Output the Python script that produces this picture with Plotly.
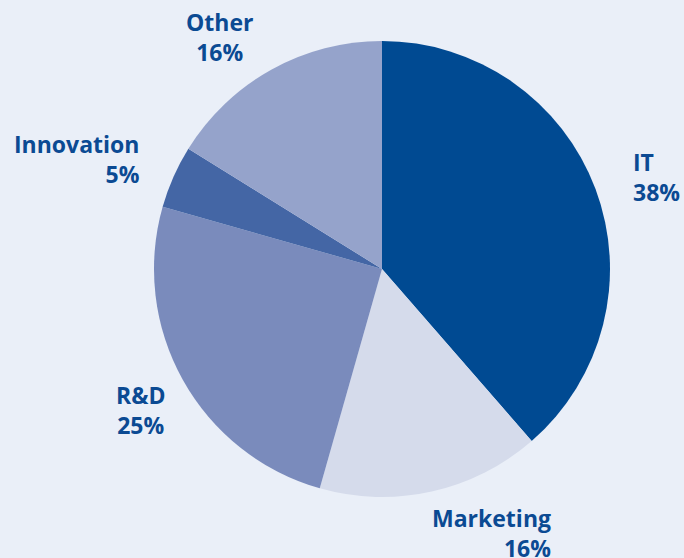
import plotly.graph_objects as go

labels = ["IT", "Marketing", "R&D", "Innovation", "Other"]
values = [38.6, 15.8, 25.0, 4.45, 16.15]          # slice sizes as drawn
pct_labels = ["38%", "16%", "25%", "5%", "16%"]     # printed labels
colors = ["#004a92", "#d5dbeb", "#7a8bbc", "#4466a5", "#95a3cb"]

# label placement (paper coords) and alignment: styling only
label_pos = {
    "IT": (631 / 684, 1 - 177 / 558, "left", "left"),
    "Marketing": (553 / 684, 1 - 533 / 558, "right", "right"),
    "R&D": (140 / 684, 1 - 410 / 558, "center", "center"),
    "Innovation": (142 / 684, 1 - 159 / 558, "right", "right"),
    "Other": (219 / 684, 1 - 37 / 558, "center", "center"),
}

W, H = 684, 558
cx, cy, r = 382, 269, 228

fig = go.Figure(go.Pie(
    labels=labels,
    values=values,
    sort=False,
    direction="clockwise",
    rotation=0,
    marker=dict(colors=colors, line=dict(width=0)),
    textinfo="none",
    hoverinfo="label",
    domain=dict(x=[(cx - r) / W, (cx + r) / W], y=[(H - cy - r) / H, (H - cy + r) / H]),
    showlegend=False,
))

for lab, pct in zip(labels, pct_labels):
    x, y, xa, al = label_pos[lab]
    fig.add_annotation(
        x=x, y=y, xref="paper", yref="paper",
        text=f"<b>{lab}</b><br><b>{pct}</b>",
        showarrow=False, xanchor=xa, yanchor="middle", align=al,
        font=dict(family="Open Sans", size=23, color="#0b4a93"),
    )

fig.update_layout(
    width=W, height=H,
    margin=dict(l=0, r=0, t=0, b=0),
    paper_bgcolor="#eaeff8",
    plot_bgcolor="#eaeff8",
)

fig.write_html(
    "out.html",
    config={"displayModeBar": False},
    post_script="document.body.style.margin='0';document.body.style.background='#eaeff8';",
)
